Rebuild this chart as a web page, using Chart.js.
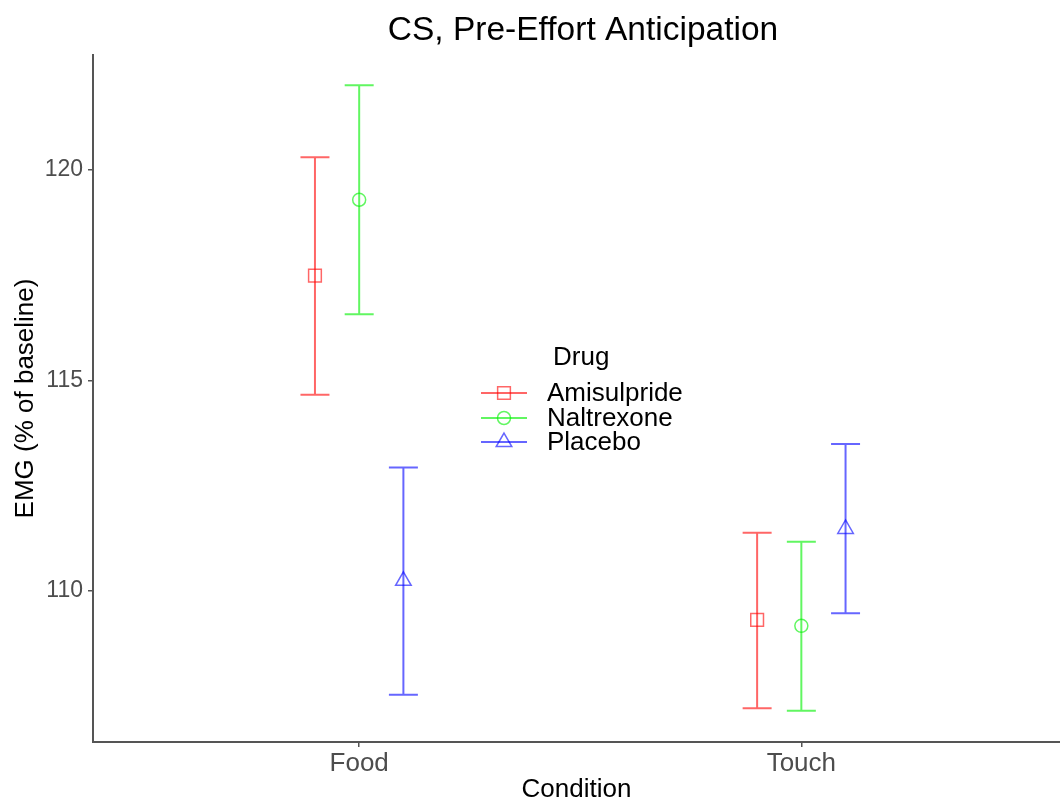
<!DOCTYPE html>
<html><head><meta charset="utf-8">
<script src="https://cdn.jsdelivr.net/npm/chart.js@4"></script>
<style>html,body{margin:0;padding:0;background:#fff}canvas{display:block}</style>
</head><body>
<canvas id="c" width="1060" height="800"></canvas>
<script>
// ---- data ----
const categories = ['Food', 'Touch'];
const drugNames = ['Amisulpride', 'Naltrexone', 'Placebo'];
const amisulprideMean = [117.49, 109.31];
const amisulprideLow  = [114.66, 107.21];
const amisulprideHigh = [120.30, 111.38];
const naltrexoneMean  = [119.29, 109.17];
const naltrexoneLow   = [116.57, 107.15];
const naltrexoneHigh  = [122.01, 111.17];
const placeboMean     = [110.24, 111.47];
const placeboLow      = [107.53, 109.47];
const placeboHigh     = [112.93, 113.49];
const yTickValues = [110, 115, 120];

// ---- styling ----
const DODGE = 0.1;
const FONT = '"Liberation Sans", Arial, Helvetica, sans-serif';
const colors = ['rgba(255,0,0,0.6)', 'rgba(0,240,0,0.62)', 'rgba(0,0,255,0.6)'];
const shapes = ['rect', 'circle', 'triangle'];
const radii = [9, 6.5, 9];

const means = [amisulprideMean, naltrexoneMean, placeboMean];
const lows = [amisulprideLow, naltrexoneLow, placeboLow];
const highs = [amisulprideHigh, naltrexoneHigh, placeboHigh];

const datasets = drugNames.map((name, d) => ({
  label: name,
  data: categories.map((c, i) => ({
    x: i + 1 + (d - 1) * DODGE,
    y: means[d][i], lo: lows[d][i], hi: highs[d][i]
  })),
  pointStyle: shapes[d],
  radius: radii[d],
  hoverRadius: radii[d],
  borderColor: colors[d],
  backgroundColor: 'rgba(0,0,0,0)',
  borderWidth: 1.5,
  showLine: false
}));

const errorBars = {
  id: 'errorBars',
  beforeDatasetsDraw(chart) {
    const ctx = chart.ctx, y = chart.scales.y;
    chart.data.datasets.forEach((ds, d) => {
      const meta = chart.getDatasetMeta(d);
      meta.data.forEach((el, i) => {
        const r = ds.data[i];
        const yl = y.getPixelForValue(r.lo), yh = y.getPixelForValue(r.hi);
        const hw = 14.5;
        ctx.save();
        ctx.strokeStyle = ds.borderColor;
        ctx.lineWidth = 2;
        ctx.beginPath();
        ctx.moveTo(el.x, yl); ctx.lineTo(el.x, yh);
        ctx.moveTo(el.x - hw, yl); ctx.lineTo(el.x + hw, yl);
        ctx.moveTo(el.x - hw, yh); ctx.lineTo(el.x + hw, yh);
        ctx.stroke();
        ctx.restore();
      });
    });
  }
};

const titleAndLegend = {
  id: 'titleAndLegend',
  afterDraw(chart) {
    const ctx = chart.ctx;
    ctx.save();
    ctx.fillStyle = '#000';
    ctx.font = '33.5px ' + FONT;
    ctx.textAlign = 'center';
    ctx.textBaseline = 'middle';
    ctx.fillText('CS, Pre-Effort Anticipation', 583, 31);

    // legend
    ctx.textAlign = 'left';
    ctx.font = '26px ' + FONT;
    ctx.fillText('Drug', 553, 358);
    const ys = [393, 418, 442];
    chart.data.datasets.forEach((ds, d) => {
      const yy = ys[d];
      ctx.strokeStyle = ds.borderColor;
      ctx.lineWidth = 2;
      ctx.beginPath();
      ctx.moveTo(481, yy); ctx.lineTo(527, yy);
      ctx.stroke();
      ctx.fillStyle = 'rgba(0,0,0,0)';
      ctx.lineWidth = 1.5;
      Chart.helpers.drawPoint(ctx, {
        pointStyle: ds.pointStyle, radius: ds.radius, borderWidth: 1.5, rotation: 0
      }, 504, yy);
      ctx.fillStyle = '#000';
      ctx.fillText(ds.label, 547, yy + 1);
    });
    ctx.restore();
  }
};

new Chart(document.getElementById('c'), {
  type: 'scatter',
  data: { datasets },
  plugins: [errorBars, titleAndLegend],
  options: {
    responsive: false,
    animation: false,
    events: [],
    layout: { autoPadding: false, padding: { top: 55, left: 0, right: 0, bottom: 0 } },
    plugins: { legend: { display: false }, title: { display: false }, tooltip: { enabled: false } },
    scales: {
      x: {
        type: 'linear',
        min: 0.398, max: 2.585,
        afterBuildTicks(scale) { scale.ticks = categories.map((c, i) => ({ value: i + 1 })); },
        afterFit(scale) { scale.height = 58; scale.paddingLeft = 0; scale.paddingRight = 0; },
        ticks: {
          callback: (v) => categories[Math.round(v) - 1],
          color: '#4D4D4D',
          font: { family: FONT, size: 26 },
          padding: 1,
          maxRotation: 0
        },
        grid: { display: true, drawOnChartArea: false, drawTicks: true, tickLength: 5, color: '#555', lineWidth: 1.5 },
        border: { display: true, color: '#555', width: 2 },
        title: { display: true, text: 'Condition', color: '#000', font: { family: FONT, size: 26, lineHeight: 0.8 }, padding: 0 }
      },
      y: {
        min: 106.41, max: 122.73,
        afterBuildTicks(scale) { scale.ticks = yTickValues.map(v => ({ value: v })); },
        afterFit(scale) { scale.width = 93; scale.paddingTop = 0; scale.paddingBottom = 0; },
        ticks: {
          callback: (v) => String(v),
          color: '#4D4D4D',
          font: { family: FONT, size: 23 },
          padding: 5
        },
        grid: { display: true, drawOnChartArea: false, drawTicks: true, tickLength: 5, color: '#555', lineWidth: 1.5 },
        border: { display: true, color: '#555', width: 2 },
        title: { display: true, text: 'EMG (% of baseline)', color: '#000', font: { family: FONT, size: 26, lineHeight: 1.2 }, padding: { top: 10, bottom: 0 } }
      }
    }
  }
});
</script>
</body></html>
